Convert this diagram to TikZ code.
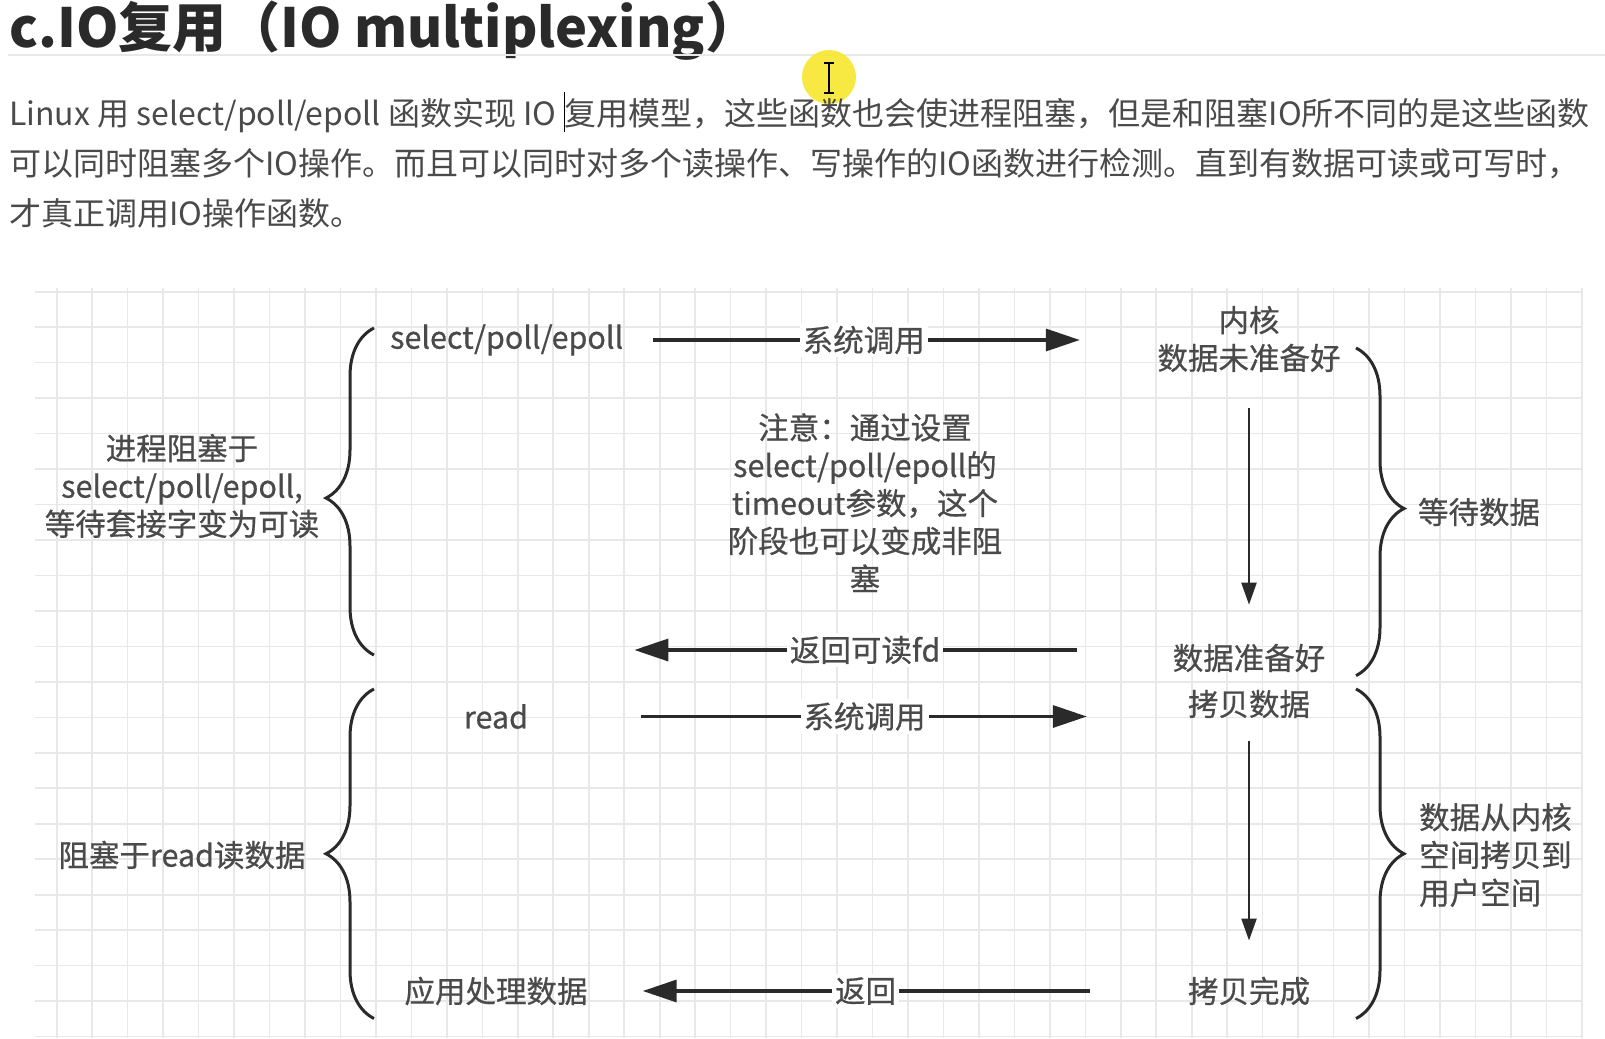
\documentclass[tikz,border=0pt]{standalone}
\usepackage{fontspec}
\setmainfont{Noto Sans CJK SC}
\newfontfamily\dgface{Noto Sans CJK SC}[FakeBold=0.6]
\usepackage{xcolor}
\usetikzlibrary{positioning, arrows.meta, decorations.pathreplacing}

\definecolor{ink}{HTML}{2A2A2A}
\definecolor{txt}{HTML}{4A4A4A}
\definecolor{gridln}{HTML}{E8E8E8}
\definecolor{hilite}{HTML}{F7E62E}

\newcommand{\dgfont}{\dgface\fontsize{30.5}{37.8}\selectfont}

\begin{document}
\begin{tikzpicture}[
      x=1pt, y=-1pt,
      font=\dgfont,
      lbl/.style={text=txt, inner sep=1pt, align=center},
      tag/.style={fill=white, text=txt, inner sep=3pt},
      para/.style={anchor=west, inner sep=0pt, text=txt, font=\fontsize{32}{40}\selectfont},
      harr/.style={draw=ink, line width=3.4pt, -{Triangle[length=34pt, width=22pt]}},
      varr/.style={draw=ink, line width=2.3pt, -{Triangle[length=22pt, width=15pt]}},
      brc/.style={draw=ink, line width=3pt, decorate, decoration={brace, amplitude=48pt}},
    ]
    \fill[white] (0,0) rectangle (1605,1038);
    \useasboundingbox (0,0) rectangle (1605,1038);

    % Header and text
    \node[anchor=base west, inner sep=0pt, text=ink, font=\fontsize{54}{62}\selectfont\bfseries]
      (title) at (9,48) {c.IO复用（IO multiplexing）};
    \draw[gridln, line width=1.5pt] (8,55) -- (1605,55);

    \fill[hilite, opacity=0.9] (829,77) circle (27);
    \node[para] (p1) at (9,112.6) {Linux 用 select/poll/epoll 函数实现 IO \textcolor{black}{\rule[-0.22em]{1.2pt}{1.25em}}复用模型，这些函数也会使进程阻塞，但是和阻塞IO所不同的是这些函数};
    \node[para] (p2) at (9,163.8) {可以同时阻塞多个IO操作。而且可以同时对多个读操作、写操作的IO函数进行检测。直到有数据可读或可写时，};
    \node[para] (p3) at (9,213) {才真正调用IO操作函数。};
    \draw[black, line width=2pt] (829,63) -- (829,93)
      (824,63) -- (834,63) (824,93) -- (834,93);

    % Grid
    \foreach \k in {0,...,21}
      \draw[gridln, line width=1.6pt] (35,{291.7+\k*35.47}) -- (1582,{291.7+\k*35.47});
    \foreach \n in {0,...,43}
      \draw[gridln, line width=1.6pt] ({56.7+\n*35.47},288) -- ({56.7+\n*35.47},1038);

    % Stage one: select/poll/epoll
    \node[lbl] (sel) at (506.7,340) {select/poll/epoll};
    \node[lbl] (kern) at (1249,339) {内核\\数据未准备好};
    \node[lbl] (note) at (865,502.6) {注意：通过设置\\select/poll/epoll的\\timeout参数，这个\\阶段也可以变成非阻\\塞};
    \node[lbl] (rdy) at (1249,658) {数据准备好};
    \node[lbl] (blk1) at (182,486) {进程阻塞于\\select/poll/epoll,\\等待套接字变为可读};
    \node[lbl] (wait) at (1479,512) {等待数据};

    % Stage two: read
    \node[lbl] (rd) at (496,716.5) {read};
    \node[lbl] (cpy) at (1249,704) {拷贝数据};
    \node[lbl] (blk2) at (182,855) {阻塞于read读数据};
    \node[lbl, align=left, anchor=west] (k2u) at (1418,855) {数据从内核\\空间拷贝到\\用户空间};
    \node[lbl] (done) at (1249,991) {拷贝完成};
    \node[lbl] (app) at (rd |- done) {应用处理数据};

    % Braces
    \draw[brc, decoration={aspect=0.48}] (374,655) -- (374,328);
    \draw[brc] (374,1018.5) -- (374,689);
    \draw[brc, decoration={aspect=0.49}] (1356,348) -- (1356,675.6);
    \draw[brc] (1356,689) -- (1356,1018.5);

    % Connections
    \draw[harr, shorten <=28.5pt, shorten >=76.5pt] (sel.east) -- (sel.east -| kern.west)
      node[tag, pos=0.45] {系统调用};
    \draw[harr, shorten <=95pt, shorten >=10pt] ([yshift=8pt]rdy.west) -- ([yshift=8pt]rdy.west -| sel.east)
      node[tag, pos=0.56] {返回可读fd};
    \draw[varr, shorten <=35pt, shorten >=38pt] (kern.south) -- (rdy.north);
    \draw[harr, shorten <=111.5pt, shorten >=100pt] (rd.east) -- (rd.east -| cpy.west)
      node[tag, pos=0.51] {系统调用};
    \draw[varr, shorten <=22pt, shorten >=35pt] (cpy.south) -- (done.north);
    \draw[harr, shorten <=97pt, shorten >=54pt] (done.west) -- (app.east)
      node[tag, pos=0.537] {返回};
  \end{tikzpicture}
\end{document}
